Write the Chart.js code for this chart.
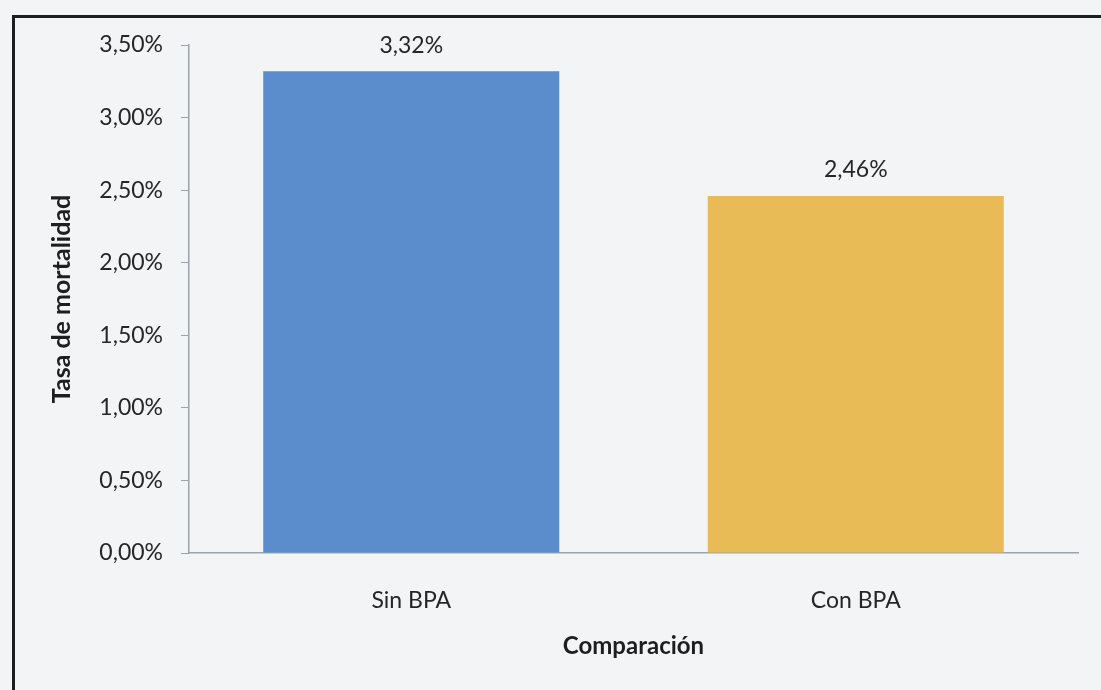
<!DOCTYPE html>
<html>
<head>
<meta charset="utf-8">
<script src="https://cdn.jsdelivr.net/npm/chart.js@4"></script>
<style>
    html, body { margin: 0; padding: 0; overflow: hidden; background: #f3f4f6; }
    #frame {
        position: absolute; left: 12px; top: 15px; width: 1200px; height: 800px;
        border-left: 3px solid #1e1e1e; border-top: 3px solid #1e1e1e;
    }
    #wrap { position: absolute; left: 0; top: 0; width: 1101px; height: 690px; }
</style>
</head>
<body>
<div id="frame"></div>
<div id="wrap"><canvas id="mortalityChart"></canvas></div>
<script>
const categories = ['Sin BPA', 'Con BPA'];
const mortalityRates = [3.32, 2.46];
const barColors = ['#5b8ccb', '#e9bb56'];
const yTicks = [0, 0.5, 1, 1.5, 2, 2.5, 3, 3.5];

const FONT = 'Lato, "Open Sans", sans-serif';
const TEXT = '#262626';

function formatPct(v) {
    return v.toFixed(2).replace('.', ',') + '%';
}

// draws the value above each bar
const valueLabels = {
    id: 'valueLabels',
    afterDatasetsDraw(chart) {
        const ctx = chart.ctx;
        const meta = chart.getDatasetMeta(0);
        ctx.save();
        ctx.font = '23px ' + FONT;
        ctx.fillStyle = TEXT;
        ctx.textAlign = 'center';
        ctx.textBaseline = 'middle';
        meta.data.forEach((bar, i) => {
            ctx.fillText(formatPct(mortalityRates[i]), bar.x, bar.y - 26);
        });
        ctx.restore();
    }
};

document.addEventListener('DOMContentLoaded', () => {
    const ctx = document.getElementById('mortalityChart').getContext('2d');

    new Chart(ctx, {
        type: 'bar',
        data: {
            labels: categories,
            datasets: [{
                data: mortalityRates,
                backgroundColor: barColors,
                borderWidth: 0,
                barPercentage: 0.666,
                categoryPercentage: 1
            }]
        },
        options: {
            responsive: true,
            maintainAspectRatio: false,
            animation: false,
            layout: { padding: { left: 0, right: 23, top: 45, bottom: 0 } },
            plugins: {
                legend: { display: false },
                tooltip: { enabled: false }
            },
            scales: {
                x: {
                    grid: { display: false, drawTicks: false },
                    border: { display: true, color: '#9aa3ad', width: 1.5 },
                    ticks: { padding: 34, color: TEXT, font: { family: FONT, size: 23 } },
                    title: {
                        display: true,
                        text: 'Comparación',
                        color: '#1e1e1e',
                        font: { family: FONT, size: 24, weight: 'bold' },
                        padding: { top: 0, bottom: 29 }
                    },
                    afterFit(scale) { scale.height = 137; }
                },
                y: {
                    min: 0,
                    max: 3.5,
                    afterBuildTicks(scale) {
                        scale.ticks = yTicks.map(v => ({ value: v }));
                    },
                    grid: { drawOnChartArea: false, drawTicks: true, tickLength: 8, color: '#9aa3ad' },
                    border: { display: true, color: '#9aa3ad', width: 1.5 },
                    ticks: {
                        padding: 18,
                        color: TEXT,
                        font: { family: FONT, size: 23 },
                        callback: v => formatPct(v)
                    },
                    title: {
                        display: true,
                        text: 'Tasa de mortalidad',
                        color: '#1e1e1e',
                        font: { family: FONT, size: 25, weight: 'bold' },
                        padding: { top: 47, bottom: 0 }
                    },
                    afterFit(scale) { scale.width = 189; }
                }
            }
        },
        plugins: [valueLabels]
    });
});
</script>
</body>
</html>
